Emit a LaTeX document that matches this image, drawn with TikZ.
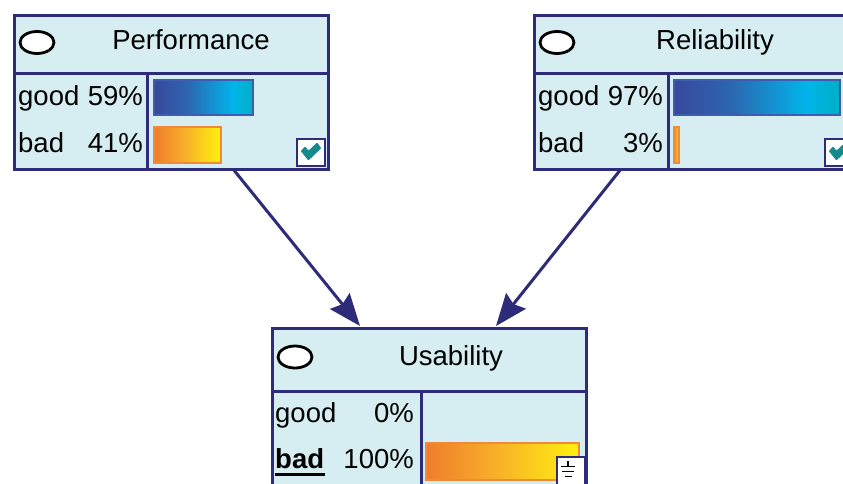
\documentclass[tikz,border=0pt]{standalone}
\usepackage{fontspec}
\setmainfont{Liberation Sans}
\usetikzlibrary{arrows.meta,shapes.geometric}

\definecolor{netline}{HTML}{2E2B7A}
\definecolor{netfill}{HTML}{D6EEF2}
\definecolor{blueA}{HTML}{3A489C}
\definecolor{blueB}{HTML}{2C66B0}
\definecolor{blueC}{HTML}{00B5EA}
\definecolor{blueD}{HTML}{00AEC4}
\definecolor{blueEdge}{HTML}{3F5DB0}
\definecolor{orangeA}{HTML}{F07C2C}
\definecolor{orangeB}{HTML}{F8B02A}
\definecolor{orangeC}{HTML}{FFEC10}
\definecolor{orangeEdge}{HTML}{F08A3A}
\definecolor{checkteal}{HTML}{148A8C}

% belief bars: the middle 50bp of each shading spans the bar
\pgfdeclarehorizontalshading{goodbar}{100bp}{color(0bp)=(blueA); color(25bp)=(blueA); color(42bp)=(blueB); color(65bp)=(blueC); color(75bp)=(blueD); color(100bp)=(blueD)}
\pgfdeclarehorizontalshading{badbar}{100bp}{color(0bp)=(orangeA); color(25bp)=(orangeA); color(48bp)=(orangeB); color(73bp)=(orangeC); color(100bp)=(orangeC)}

\begin{document}
\begin{tikzpicture}[x=1pt,y=-1pt,
  netbox/.style={draw=netline, line width=3pt, fill=netfill, rectangle, inner sep=0pt, anchor=north west},
  netrule/.style={draw=netline, line width=3pt},
  txt/.style={inner sep=0pt, font=\fontsize{27.5}{32}\selectfont},
  statenode/.style={draw=black, line width=2.8pt, fill=white, ellipse, inner sep=0pt, minimum width=34pt, minimum height=22pt},
  goodfill/.style={shading=goodbar, draw=blueEdge, line width=1.5pt},
  badfill/.style={shading=badbar, draw=orangeEdge, line width=1.5pt},
  tickbox/.style={draw=netline, line width=2pt, fill=white},
  tick/.style={draw=checkteal, fill=checkteal, line width=2pt, line join=round},
  netlink/.style={draw=netline, line width=3pt, -{Stealth[length=32pt,width=25pt,inset=4pt]}},
]
\useasboundingbox (0,0) rectangle (843,483);
\fill[white] (0,0) rectangle (843,483);
\clip (0,0) rectangle (843,483);

% ---------- Performance ----------
\node[netbox, minimum width=314pt, minimum height=154pt] (perf) at (13,14) {};
\draw[netrule] (13,73) -- (327,73) (147,73) -- (147,168);
\node[statenode] (perfstate) at (37,42.5) {};
\node[txt, anchor=base] (perftitle) at (191,49) {Performance};
\node[txt, anchor=base west] (perfgood) at (18,105) {good};
\node[txt, anchor=base east] (perfgoodp) at (143,105) {59\%};
\node[txt, anchor=base west] (perfbad) at (18,152) {bad};
\node[txt, anchor=base east] (perfbadp) at (143,152) {41\%};
\path[goodfill] (154,80) rectangle (253,115);
\path[badfill] (154,127) rectangle (221,163);
\path[tickbox] (297,139) rectangle (325,166);
\path[tick] (302,151) -- (305,148) -- (308.5,152) -- (317,144) -- (320,148) -- (308.5,159) -- cycle;

% ---------- Reliability ----------
\node[netbox, minimum width=314pt, minimum height=154pt] (reli) at (533,14) {};
\draw[netrule] (533,73) -- (847,73) (668,73) -- (668,168);
\node[statenode] (relistate) at (557,42.5) {};
\node[txt, anchor=base] (relititle) at (715,49) {Reliability};
\node[txt, anchor=base west] (religood) at (538,105) {good};
\node[txt, anchor=base east] (religoodp) at (663,105) {97\%};
\node[txt, anchor=base west] (relibad) at (538,152) {bad};
\node[txt, anchor=base east] (relibadp) at (663,152) {3\%};
\path[goodfill] (674,80) rectangle (840,115);
\path[badfill] (674,127) rectangle (679,163);
\path[tickbox] (825,139) rectangle (853,166);
\path[tick] (830,151) -- (833,148) -- (836.5,152) -- (845,144) -- (848,148) -- (836.5,159) -- cycle;

% ---------- Usability ----------
\node[netbox, minimum width=314pt, minimum height=175pt] (usab) at (271,327) {};
\draw[netrule] (271,391) -- (585,391) (421,391) -- (421,502);
\node[statenode] (usabstate) at (295,357) {};
\node[txt, anchor=base] (usabtitle) at (451,365) {Usability};
\node[txt, anchor=base west] (usabgood) at (275,422) {good};
\node[txt, anchor=base east] (usabgoodp) at (414,422) {0\%};
\node[txt, anchor=base west, font=\fontsize{27.5}{32}\selectfont\bfseries] (usabbad) at (275,468) {bad};
\draw[line width=3pt] (275,474) -- (325,474);
\node[txt, anchor=base east] (usabbadp) at (414,468) {100\%};
\path[badfill] (426,443) rectangle (579,480);
% evidence marker
\path[tickbox] (557,457) rectangle (585,490);
\draw[line width=1.6pt] (568,461) -- (568,466)
  (561,466.5) -- (575,466.5) (562,471.5) -- (574,471.5) (564.5,476.5) -- (571.5,476.5);

% ---------- links ----------
\coordinate (perfout) at (233,169);
\coordinate (reliout) at (621,169);
\coordinate (usabin1) at (360,326);
\coordinate (usabin2) at (496,326);
\draw[netlink] (perfout) -- (usabin1);
\draw[netlink] (reliout) -- (usabin2);
\end{tikzpicture}
\end{document}
